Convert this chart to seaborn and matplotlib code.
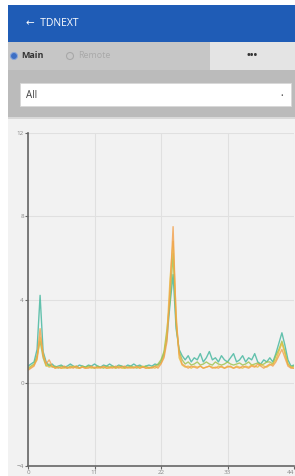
import numpy as np
import pandas as pd
import matplotlib
matplotlib.use("Agg")
import matplotlib.pyplot as plt
from matplotlib.patches import Rectangle, Ellipse
import seaborn as sns

# data, one sample every 0.5 on the x axis
x_step = 0.5
teal = [0.8, 0.9, 1.0, 1.6, 4.2, 1.5, 1.0, 0.8, 0.9, 0.75,
        0.8, 0.85, 0.75, 0.8, 0.9, 0.8, 0.75, 0.85, 0.8, 0.75,
        0.85, 0.8, 0.9, 0.8, 0.75, 0.85, 0.8, 0.9, 0.8, 0.75,
        0.85, 0.8, 0.75, 0.85, 0.8, 0.9, 0.8, 0.85, 0.75, 0.8,
        0.85, 0.8, 0.9, 0.85, 1.0, 1.4, 2.2, 3.8, 5.2, 2.6,
        1.6, 1.3, 1.1, 1.3, 1.0, 1.2, 1.1, 1.4, 1.0, 1.2,
        1.5, 1.1, 1.2, 1.0, 1.3, 1.1, 1.0, 1.2, 1.4, 1.0,
        1.1, 1.3, 1.0, 1.2, 1.1, 1.4, 1.0, 0.9, 1.1, 1.0,
        1.2, 1.0, 1.4, 1.9, 2.4, 1.8, 1.1, 0.8, 0.85]
green = [0.7, 0.8, 0.9, 1.3, 2.0, 1.2, 0.8, 0.9, 0.75, 0.8,
         0.7, 0.8, 0.75, 0.7, 0.8, 0.75, 0.8, 0.7, 0.8, 0.75,
         0.8, 0.75, 0.7, 0.8, 0.75, 0.7, 0.8, 0.75, 0.8, 0.7,
         0.75, 0.8, 0.7, 0.75, 0.8, 0.75, 0.7, 0.8, 0.75, 0.8,
         0.7, 0.75, 0.8, 0.9, 1.1, 1.5, 2.6, 4.0, 6.2, 2.8,
         1.5, 1.1, 0.9, 1.0, 0.85, 0.9, 1.0, 0.85, 0.9, 1.0,
         0.9, 0.85, 1.0, 0.9, 0.85, 0.9, 1.0, 0.9, 0.85, 0.9,
         0.95, 0.85, 0.9, 1.0, 0.85, 0.9, 0.95, 0.85, 0.9, 1.0,
         1.0, 0.9, 1.3, 1.6, 2.0, 1.5, 0.9, 0.75, 0.8]
gold = [0.65, 0.75, 0.85, 1.1, 2.2, 1.4, 0.85, 0.75, 0.8, 0.7,
        0.75, 0.7, 0.7, 0.75, 0.7, 0.8, 0.7, 0.7, 0.75, 0.7,
        0.75, 0.7, 0.75, 0.7, 0.75, 0.75, 0.7, 0.7, 0.75, 0.7,
        0.8, 0.7, 0.7, 0.75, 0.7, 0.75, 0.75, 0.7, 0.8, 0.7,
        0.7, 0.75, 0.7, 0.8, 0.95, 1.3, 2.4, 5.0, 6.8, 3.3,
        1.2, 0.85, 0.75, 0.8, 0.7, 0.8, 0.75, 0.8, 0.7, 0.75,
        0.8, 0.75, 0.7, 0.8, 0.75, 0.7, 0.8, 0.75, 0.7, 0.8,
        0.75, 0.7, 0.8, 0.75, 0.85, 0.8, 0.75, 0.9, 0.8, 0.75,
        0.85, 0.9, 1.1, 1.5, 1.9, 1.4, 0.9, 0.75, 0.7]
orange = [0.6, 0.7, 0.8, 1.2, 2.6, 1.3, 0.9, 1.1, 0.8, 0.7,
          0.75, 0.7, 0.8, 0.7, 0.75, 0.7, 0.8, 0.7, 0.75, 0.7,
          0.7, 0.8, 0.7, 0.75, 0.7, 0.8, 0.7, 0.75, 0.7, 0.8,
          0.7, 0.75, 0.8, 0.7, 0.75, 0.7, 0.8, 0.7, 0.75, 0.7,
          0.75, 0.7, 0.8, 0.7, 0.9, 1.2, 2.0, 4.5, 7.5, 3.0,
          1.4, 0.9, 0.8, 0.7, 0.8, 0.75, 0.7, 0.8, 0.7, 0.75,
          0.8, 0.7, 0.75, 0.7, 0.8, 0.7, 0.75, 0.8, 0.7, 0.75,
          0.7, 0.8, 0.75, 0.7, 0.8, 0.75, 0.9, 0.8, 0.7, 0.8,
          0.9, 0.8, 1.0, 1.3, 1.6, 1.2, 0.8, 0.7, 0.7]

series = {"teal": teal, "green": green, "gold": gold, "orange": orange}
colors = {"teal": "#3fb59c", "green": "#9cc24a", "gold": "#e9bd3c", "orange": "#f2a04a"}
x_ticks = [0, 11, 22, 33, 44]
y_ticks = [-4, 0, 4, 8, 12]

rows = []
for name, vals in series.items():
    for i, v in enumerate(vals):
        rows.append({"x": i * x_step, "y": v, "s": name})
df = pd.DataFrame(rows)

sns.set_style("white")
plt.rcParams["font.family"] = ["Open Sans", "DejaVu Sans"]

W, H = 295, 476
fig = plt.figure(figsize=(W / 100, H / 100), dpi=100)
fig.patch.set_facecolor("white")


def box(x0, y0, x1, y1, color, ec="none", lw=0):
    # pixel box (top-left origin) -> figure rect, kept under the axes
    fig.patches.append(Rectangle((x0 / W, 1 - y1 / H), (x1 - x0) / W, (y1 - y0) / H,
                                 transform=fig.transFigure, facecolor=color,
                                 edgecolor=ec, lw=lw, zorder=-5))


def dot(x, y, r, fc, ec):
    fig.patches.append(Ellipse((x / W, 1 - y / H), 2 * r / W, 2 * r / H,
                               transform=fig.transFigure, facecolor=fc,
                               edgecolor=ec, lw=0.8, zorder=-4))


def txt(x, y, s, **kw):
    fig.text(x / W, 1 - y / H, s, va="center", **kw)


# app chrome
box(8, 5, 295, 42, "#1f5cb6")
txt(26, 23, "←  TDNEXT", color="white", fontsize=7.5)
box(8, 42, 210, 70, "#c6c6c6")
box(210, 42, 295, 70, "#e4e4e4")
box(8, 70, 295, 117, "#bbbbbb")
box(20, 83, 291, 106, "white", ec="#d8d8d8", lw=0.6)
dot(14, 56, 3.5, "#3d6fc4", "#8aa6d8")
txt(21, 56, "Main", color="#333333", fontsize=6.5, fontweight="bold")
dot(70, 56, 3.5, "none", "#a8a8a8")
txt(78, 56, "Remote", color="#a9a9a9", fontsize=6.5)
txt(252, 56, "•••", color="#333333", fontsize=7, ha="center", fontweight="bold")
txt(26, 95, "All", color="#444444", fontsize=7)
txt(282, 96, "•", color="#555555", fontsize=5, ha="center")
box(8, 117, 295, 476, "#f2f2f2")
box(8, 117, 295, 119, "#d9d9d9")

# chart
ax = fig.add_axes([28 / W, (H - 466) / H, 266 / W, (466 - 133) / H])
ax.set_facecolor("#f2f2f2")
sns.lineplot(data=df, x="x", y="y", hue="s", palette=colors, lw=1.0, alpha=0.8,
             legend=False, ax=ax)
ax.set_xlim(0, 44)
ax.set_ylim(-4, 12)
ax.set_xticks(x_ticks)
ax.set_yticks(y_ticks)
ax.grid(True, color="#e0e0e0", lw=0.8)
ax.set_axisbelow(True)
ax.set_xlabel("")
ax.set_ylabel("")
for side in ["top", "right"]:
    ax.spines[side].set_visible(False)
for side in ["left", "bottom"]:
    ax.spines[side].set_color("#666666")
    ax.spines[side].set_linewidth(1.2)
ax.tick_params(axis="both", length=2, width=0.8, color="#666666",
               labelsize=4.5, labelcolor="#888888", pad=1, left=True, bottom=True)
# last x label sits at the right edge of the screen
ax.get_xticklabels()[-1].set_horizontalalignment("right")

plt.savefig("out.png", dpi=100)
